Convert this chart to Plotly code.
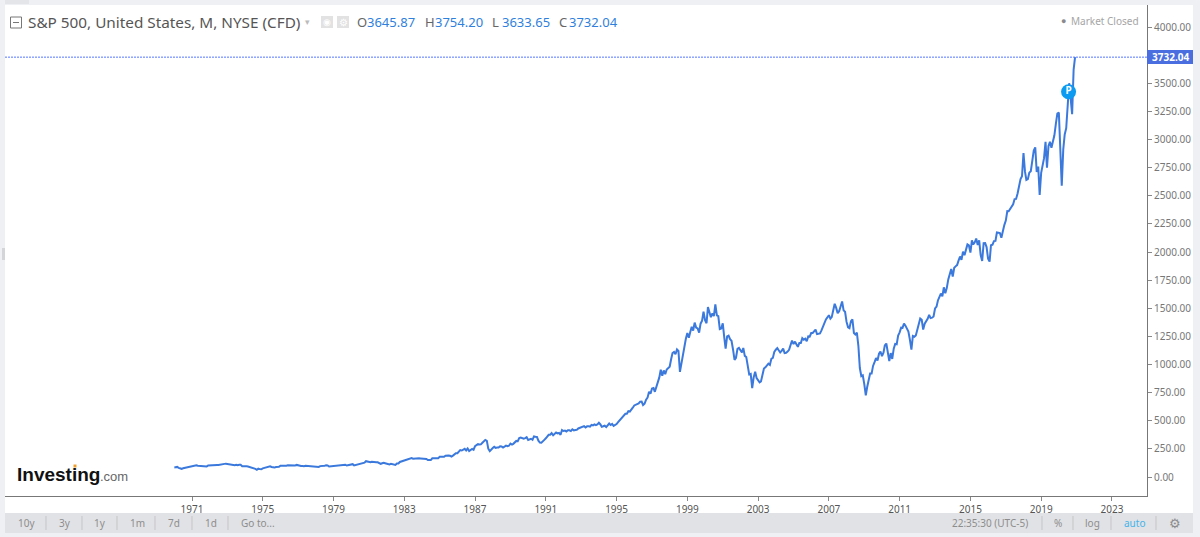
import pandas as pd
import plotly.graph_objects as go

# monthly closes, S&P 500
closes_1970s = [85.02, 89.50, 89.63, 81.52, 76.55, 72.72, 78.05, 81.52, 84.21, 83.25, 87.20, 92.15,
    95.88, 96.75, 100.31, 103.95, 99.63, 99.70, 95.58, 99.03, 98.34, 94.23, 93.99, 102.09,
    103.94, 106.57, 107.20, 107.67, 109.53, 107.14, 107.39, 111.09, 110.55, 111.58, 116.67, 118.05,
    116.03, 111.68, 111.52, 106.97, 104.95, 104.26, 108.22, 104.25, 108.43, 108.29, 95.96, 97.55,
    96.57, 96.22, 93.98, 90.31, 87.28, 86.00, 79.31, 72.15, 63.54, 73.90, 69.97, 68.56,
    76.98, 81.59, 83.36, 87.30, 91.15, 95.19, 88.75, 86.88, 83.87, 89.04, 91.24, 90.19,
    100.86, 99.71, 102.77, 101.64, 100.18, 104.28, 103.44, 102.91, 105.24, 102.90, 102.10, 107.46,
    102.03, 99.82, 98.42, 98.44, 96.12, 100.48, 98.85, 96.77, 96.53, 92.34, 94.83, 95.10,
    89.25, 87.04, 89.21, 96.83, 97.24, 95.53, 100.68, 103.29, 102.54, 93.15, 94.70, 96.11,
    99.93, 96.28, 101.59, 101.76, 99.08, 102.91, 103.81, 109.32, 109.32, 101.82, 106.16, 107.94]
closes_1980s = [114.16, 113.66, 102.09, 106.29, 111.24, 114.24, 121.67, 122.38, 125.46, 127.47, 140.52, 135.76,
    129.55, 131.27, 136.00, 132.81, 132.59, 131.21, 130.92, 122.79, 116.18, 121.89, 126.35, 122.55,
    120.40, 113.11, 111.96, 116.44, 111.88, 109.61, 107.09, 119.51, 120.42, 133.71, 138.54, 140.64,
    145.30, 148.06, 152.96, 164.42, 162.39, 167.64, 162.56, 164.40, 166.07, 163.55, 166.40, 164.93,
    163.41, 157.06, 159.18, 160.05, 150.55, 153.18, 150.66, 166.68, 166.10, 166.09, 163.58, 167.24,
    179.63, 181.18, 180.66, 179.83, 189.55, 191.85, 190.92, 188.63, 182.08, 189.82, 202.17, 211.28,
    211.78, 226.92, 238.90, 235.52, 247.35, 250.84, 236.12, 252.93, 231.32, 243.98, 249.22, 242.17,
    274.08, 284.20, 291.70, 288.36, 290.10, 304.00, 318.66, 329.80, 321.83, 251.79, 230.30, 247.08,
    257.07, 267.82, 258.89, 261.33, 262.16, 273.50, 272.02, 261.52, 271.91, 278.97, 273.70, 277.72,
    297.47, 288.86, 294.87, 309.64, 320.52, 317.98, 346.08, 351.45, 349.15, 340.36, 345.99, 353.40]
closes_1990s = [329.08, 331.89, 339.94, 330.80, 361.23, 358.02, 356.15, 322.56, 306.05, 304.00, 322.22, 330.22,
    343.93, 367.07, 375.22, 375.34, 389.83, 371.16, 387.81, 395.43, 387.86, 392.45, 375.22, 417.09,
    408.78, 412.70, 403.69, 414.95, 415.35, 408.14, 424.21, 414.03, 417.80, 418.68, 431.35, 435.71,
    438.78, 443.38, 451.67, 440.19, 450.19, 450.53, 448.13, 463.56, 458.93, 467.83, 461.79, 466.45,
    481.61, 467.14, 445.77, 450.91, 456.50, 444.27, 458.26, 475.49, 462.71, 472.35, 453.69, 459.27,
    470.42, 487.39, 500.71, 514.71, 533.40, 544.75, 562.06, 561.88, 584.41, 581.50, 605.37, 615.93,
    636.02, 640.43, 645.50, 654.17, 669.12, 670.63, 639.95, 651.99, 687.31, 705.27, 757.02, 740.74,
    786.16, 790.82, 757.12, 801.34, 848.28, 885.14, 954.31, 899.47, 947.28, 914.62, 955.40, 970.43,
    980.28, 1049.34, 1101.75, 1111.75, 1090.82, 1133.84, 1120.67, 935.00, 1017.01, 1098.67, 1163.63, 1229.23,
    1279.64, 1238.33, 1286.37, 1335.18, 1301.84, 1372.71, 1328.72, 1320.41, 1282.71, 1362.93, 1388.91, 1469.25]
closes_2000s = [1394.46, 1366.42, 1510.00, 1452.43, 1420.60, 1454.60, 1430.83, 1535.00, 1436.51, 1429.40, 1314.95, 1320.28,
    1366.01, 1239.94, 1140.00, 1249.46, 1255.82, 1224.42, 1211.23, 1133.58, 1040.94, 1059.78, 1139.45, 1148.08,
    1130.20, 1106.73, 1147.39, 1076.92, 1067.14, 989.82, 911.62, 916.07, 790.00, 885.76, 936.31, 879.82,
    855.70, 841.15, 849.18, 916.92, 963.59, 974.50, 990.31, 1008.01, 995.97, 1050.71, 1058.20, 1111.92,
    1131.13, 1144.94, 1126.21, 1107.30, 1120.68, 1140.84, 1101.72, 1104.24, 1114.58, 1130.20, 1173.82, 1211.92,
    1181.27, 1203.60, 1180.59, 1156.85, 1191.50, 1191.33, 1234.18, 1220.33, 1228.81, 1207.01, 1249.48, 1248.29,
    1280.08, 1280.66, 1294.87, 1310.61, 1270.09, 1270.20, 1276.66, 1303.82, 1335.85, 1377.94, 1400.63, 1418.30,
    1438.24, 1406.82, 1420.86, 1482.37, 1540.00, 1503.35, 1455.27, 1473.99, 1526.75, 1560.00, 1481.14, 1468.36,
    1378.55, 1330.63, 1322.70, 1385.59, 1400.38, 1280.00, 1267.38, 1282.83, 1166.36, 968.75, 896.24, 903.25,
    825.88, 725.00, 797.87, 872.81, 919.14, 919.32, 987.48, 1020.62, 1057.08, 1036.19, 1095.63, 1115.10]
closes_2010s = [1073.87, 1104.49, 1169.43, 1186.69, 1089.41, 1030.71, 1101.60, 1049.33, 1141.20, 1183.26, 1180.55, 1257.64,
    1286.12, 1327.22, 1325.83, 1363.61, 1345.20, 1320.64, 1292.28, 1218.89, 1131.42, 1253.30, 1246.96, 1257.60,
    1312.41, 1365.68, 1408.47, 1397.91, 1310.33, 1362.16, 1379.32, 1406.58, 1440.67, 1412.16, 1416.18, 1426.19,
    1498.11, 1514.68, 1569.19, 1597.57, 1630.74, 1606.28, 1685.73, 1632.97, 1681.55, 1756.54, 1805.81, 1848.36,
    1782.59, 1859.45, 1872.34, 1883.95, 1923.57, 1960.23, 1930.67, 2003.37, 1972.29, 2018.05, 2067.56, 2058.90,
    1994.99, 2104.50, 2067.89, 2085.51, 2120.00, 2063.11, 2103.84, 1972.18, 1920.03, 2079.36, 2080.41, 2043.94,
    1940.24, 1915.00, 2059.74, 2065.30, 2096.95, 2098.86, 2173.60, 2170.95, 2168.27, 2126.15, 2198.81, 2238.83,
    2278.87, 2363.64, 2362.72, 2384.20, 2411.80, 2423.41, 2470.30, 2471.65, 2519.36, 2575.26, 2647.58, 2673.61,
    2880.00, 2713.83, 2640.87, 2648.05, 2705.27, 2718.37, 2816.29, 2901.52, 2930.00, 2711.74, 2760.17, 2506.85,
    2704.10, 2784.49, 2834.40, 2980.00, 2750.52, 2941.76, 2980.38, 2926.46, 2976.74, 3037.56, 3140.98, 3230.78]
closes_2020 = [3240.00, 2954.22, 2590.00, 2912.43, 3044.31, 3100.29, 3271.12, 3500.31, 3363.00, 3225.00, 3621.63, 3732.04]

year_ticks = [1971, 1975, 1979, 1983, 1987, 1991, 1995, 1999, 2003, 2007, 2011, 2015, 2019, 2023]
# no 3750 tick, it would sit behind the last price label
price_ticks = [0, 250, 500, 750, 1000, 1250, 1500, 1750, 2000, 2250, 2500, 2750, 3000, 3250, 3500, 4000]
last_price = 3732.04
ohlc_labels = ["O", "H", "L", "C"]
ohlc_values = ["3645.87", "3754.20", "3633.65", "3732.04"]
pin_date = "2020-07-20"
pin_price = 3425
left_buttons = ["10y", "3y", "1y", "1m", "7d", "1d", "Go to..."]
right_buttons = ["22:35:30 (UTC-5)", "%", "log", "auto"]

W, H = 1200, 537
L, R, T, B = 5, 53, 5, 41
FONT = "Noto Sans"


# page pixels to paper coords, everything around the plot is placed by pixel
def px(x):
    return (x - L) / (W - L - R)


def py(y):
    return 1 - (y - T) / (H - T - B)


def box(x0, y0, x1, y1, color, layer="below"):
    return dict(type="rect", xref="paper", yref="paper", x0=px(x0), x1=px(x1), y0=py(y0), y1=py(y1),
                fillcolor=color, line_width=0, layer=layer)


def vline(x, y0, y1, color="#c4c5c8"):
    return dict(type="line", xref="paper", yref="paper", x0=px(x), x1=px(x), y0=py(y0), y1=py(y1),
                line=dict(color=color, width=1))


def label(x, y, text, size=10, color="#8a8a8a", anchor="left", family=FONT):
    return dict(xref="paper", yref="paper", x=px(x), y=py(y), text=text, showarrow=False, xanchor=anchor,
                yanchor="middle", font=dict(family=family, size=size, color=color))


closes = closes_1970s + closes_1980s + closes_1990s + closes_2000s + closes_2010s + closes_2020
dates = pd.date_range("1970-01-01", periods=len(closes), freq="MS")

fig = go.Figure()
fig.add_trace(go.Scatter(x=dates, y=closes, mode="lines", line=dict(color="#3b79dc", width=2), hoverinfo="skip"))
fig.add_trace(go.Scatter(x=[pin_date], y=[pin_price], mode="markers+text", text=["<b>P</b>"],
                         textposition="middle center", textfont=dict(family=FONT, size=10, color="white"),
                         marker=dict(size=15, color="#0c9bf0"), hoverinfo="skip"))

shapes = [
    box(0, 0, W, H, "#eef0f4"),
    box(5, 5, 1193, 513, "white"),
    box(5, 513, 1193, 533, "#e1e2e5"),
    box(5, 0, 29, 4, "#e4e5e8"),
    box(2, 248, 5, 260, "#d4d5d8"),
    box(321, 16, 333, 28, "#e2e2e2"),
    box(337, 16, 349, 28, "#e2e2e2"),
    dict(type="rect", xref="paper", yref="paper", x0=px(10.5), x1=px(21.5), y0=py(17), y1=py(28),
         line=dict(color="#777777", width=1)),
    dict(type="line", xref="paper", yref="paper", x0=px(13), x1=px(19), y0=py(22.5), y1=py(22.5),
         line=dict(color="#777777", width=1)),
    dict(type="line", xref="paper", yref="y", x0=0, x1=1, y0=last_price, y1=last_price,
         line=dict(color="#5577ff", width=1, dash="2px,1px")),
    box(1147, 50, 1193, 64, "#4a6ee0", layer="above"),
    box(73.5, 464.5, 76.5, 467.5, "#f0a030", layer="above"),
]
for x in [46, 82, 117, 155, 192, 228, 1042, 1073, 1111, 1156]:
    shapes.append(vline(x, 516, 530))

annotations = [
    label(26, 22, "S&P 500, United States, M, NYSE (CFD)", size=15.3, color="#555555"),
    label(303, 22, "▾", size=9, color="#bbbbbb"),
    label(327, 22, "◉", size=9, color="white", anchor="center"),
    label(343, 22, "⚙", size=10, color="white", anchor="center"),
    label(1059, 21, "●", size=9, color="#8a8a8a"),
    label(1069, 21, "Market Closed", size=10, color="#a5a5a5"),
    label(1170, 57, "<b>3732.04</b>", size=10, color="white", anchor="center"),
    label(15, 474, "<b>Investing</b>", size=19, color="#111111", family="Liberation Sans"),
    label(98, 476, ".com", size=13, color="#666666", family="Liberation Sans"),
]
for name, val, x in zip(ohlc_labels, ohlc_values, [355, 423, 490, 557]):
    annotations.append(label(x, 22, name, size=13, color="#666666"))
    annotations.append(label(x + 10, 22, val, size=13, color="#2f7fdc"))
for text, x in zip(left_buttons, [26, 65, 100, 137, 174, 211, 258]):
    annotations.append(label(x, 523, text, color="#8d8d8d", anchor="center"))
for text, x in zip(right_buttons, [990, 1058, 1092, 1134]):
    annotations.append(label(x, 523, text, color="#45b4e8" if text == "auto" else "#8d8d8d", anchor="center"))
annotations.append(label(1175, 523, "⚙", size=13, color="#8d8d8d", anchor="center"))

fig.update_layout(
    width=W, height=H, showlegend=False,
    margin=dict(l=L, r=R, t=T, b=B, pad=0),
    paper_bgcolor="#eef0f4", plot_bgcolor="rgba(0,0,0,0)",
    font=dict(family=FONT, size=10, color="#777777"),
    shapes=shapes, annotations=annotations,
)
fig.update_xaxes(range=["1960-06-06", "2024-12-25"], tickvals=[f"{y}-01-01" for y in year_ticks],
                 ticktext=[str(y) for y in year_ticks], ticks="outside", ticklen=4, tickcolor="#888888",
                 showgrid=False, zeroline=False, showline=True, linecolor="#777777", linewidth=1,
                 tickfont=dict(family=FONT, size=10, color="#555555"))
fig.update_yaxes(range=[-168.9, 4195.6], side="right", tickvals=price_ticks,
                 ticktext=[f"{p:.2f}" for p in price_ticks], ticks="outside", ticklen=4, tickcolor="#888888",
                 showgrid=False, zeroline=False, showline=True, linecolor="#777777", linewidth=1,
                 tickfont=dict(family=FONT, size=10, color="#777777"))

fig.write_html("out.html", config=dict(displayModeBar=False), post_script="document.body.style.margin='0';")
